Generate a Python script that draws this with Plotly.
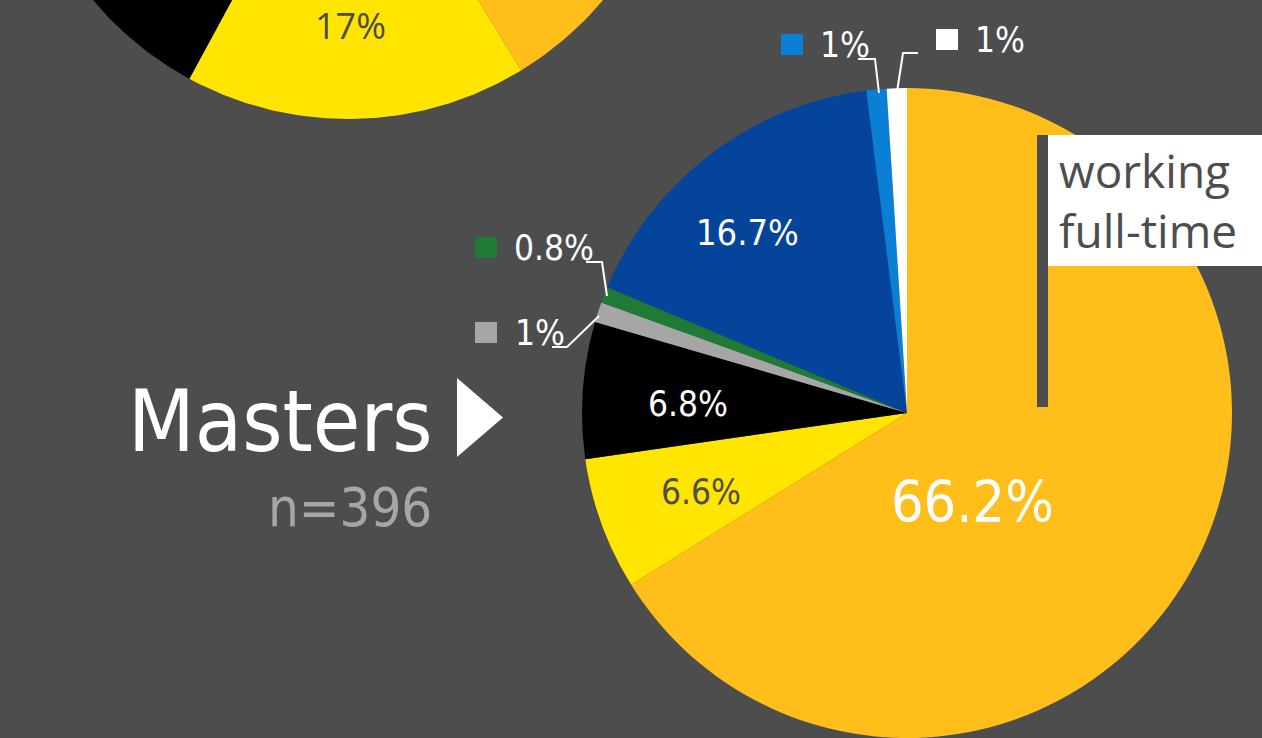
import numpy as np
import plotly.graph_objects as go

# ---------------- data ----------------
categories = ["working full-time", "working part-time", "not working", "other",
              "volunteering", "further study", "internship", "unknown"]
masters_values = [66.2, 6.6, 6.8, 1.0, 0.8, 16.7, 1.0, 1.0]
masters_n = 396
# partially visible pie at the top-left (only three slices visible)
top_values = [41.3, 16.6, 24.0, 2.0, 1.5, 12.6, 1.0, 1.0]
top_label_value = 17

# ---------------- style ----------------
BG = "#4d4d4d"
COLORS = ["#FFBE1A", "#FFE500", "#000000", "#A6A6A6", "#1F7A35", "#05449B", "#0A7FD6", "#FFFFFF"]
W, H = 1262, 738
LABEL_FONT = "DejaVu Sans Condensed, DejaVu Sans, sans-serif"
NARROW_FONT = "Liberation Sans Narrow, DejaVu Sans Condensed, sans-serif"

fig = go.Figure()

# ---- top-left partial pie (centre above the visible page) ----
tcx, tcy, tR = 348, -214, 333
cum = np.concatenate([[0], np.cumsum(top_values)]) / np.sum(top_values) * 2 * np.pi
for i in range(len(top_values)):
    th = np.linspace(cum[i], cum[i + 1], 120)
    xs = np.concatenate([[tcx], tcx + tR * np.sin(th), [tcx]])
    ys = np.concatenate([[tcy], tcy - tR * np.cos(th), [tcy]])
    fig.add_trace(go.Scatter(x=xs, y=ys, mode="lines", fill="toself",
                             fillcolor=COLORS[i], line=dict(width=0, color=COLORS[i]),
                             hoverinfo="skip", showlegend=False))

# ---- main Masters pie ----
R = 325
cx, cy = 907, 413
fig.add_trace(go.Pie(
    values=masters_values, labels=categories, sort=False, direction="clockwise",
    rotation=0, marker=dict(colors=COLORS, line=dict(width=0)),
    textinfo="none", hoverinfo="label+percent", showlegend=False,
    domain=dict(x=[(cx - R) / W, (cx + R) / W], y=[(H - cy - R) / H, (H - cy + R) / H]),
))

def pct(v):
    return f"{v:g}%"

annotations = []
# inside labels: (slice index, x, y, size, color)
inside = [(0, 972, 502, 57, "#FFFFFF"), (5, 747, 232, 36, "#FFFFFF"),
          (2, 688, 404, 35, "#FFFFFF"), (1, 701, 492, 35, BG)]
for idx, x, y, s, c in inside:
    annotations.append(dict(x=x, y=y, xref="x", yref="y", text=pct(masters_values[idx]),
                            showarrow=False, font=dict(family=LABEL_FONT, size=s, color=c),
                            xanchor="center", yanchor="middle"))

# outside labels with legend squares and leader lines
outside = [
    # idx, square x0, y0, text left x, text mid y, leader path
    (4, 475, 237, 512, 248, [(586, 262), (602, 262), (607, 296)]),
    (3, 475, 322, 513, 333, [(552, 347), (567, 347), (599, 316)]),
    (6, 781, 34, 818, 45, [(858, 59), (875, 59), (879, 93)]),
    (7, 936, 29, 973, 40, [(918, 53), (903, 53), (897, 92)]),
]
shapes = []
for idx, sx, sy, tx, ty, path in outside:
    shapes.append(dict(type="rect", xref="x", yref="y", x0=sx, x1=sx + 22, y0=sy, y1=sy + 21,
                       fillcolor=COLORS[idx], line=dict(width=0), layer="above"))
    annotations.append(dict(x=tx, y=ty, xref="x", yref="y", text=pct(masters_values[idx]),
                            showarrow=False, font=dict(family=LABEL_FONT, size=35, color="#FFFFFF"),
                            xanchor="left", yanchor="middle"))
    d = "M" + " L".join(f"{px},{py}" for px, py in path)
    shapes.append(dict(type="path", xref="x", yref="y", path=d,
                       line=dict(color="#FFFFFF", width=2), layer="above"))

# flag "working full-time"
shapes.append(dict(type="rect", xref="x", yref="y", x0=1048, x1=1275, y0=135, y1=266,
                   fillcolor="#FFFFFF", line=dict(width=0), layer="above"))
shapes.append(dict(type="rect", xref="x", yref="y", x0=1037, x1=1048, y0=135, y1=407,
                   fillcolor=BG, line=dict(width=0), layer="above"))
annotations.append(dict(x=1057, y=200, xref="x", yref="y", text="working<br>full-time",
                        showarrow=False, align="left", xanchor="left", yanchor="middle",
                        font=dict(family="Open Sans, sans-serif", size=46, color=BG)))

# Masters title, arrow and n
annotations.append(dict(x=435, y=421, xref="x", yref="y", text="Masters", showarrow=False,
                        xanchor="right", yanchor="middle",
                        font=dict(family=NARROW_FONT, size=86, color="#FFFFFF")))
annotations.append(dict(x=434, y=507, xref="x", yref="y", text=f"n={masters_n}", showarrow=False,
                        xanchor="right", yanchor="middle",
                        font=dict(family=NARROW_FONT, size=54, color="#A6A6A6")))
shapes.append(dict(type="path", xref="x", yref="y", path="M457,378 L457,457 L503,417.5 Z",
                   fillcolor="#FFFFFF", line=dict(width=0), layer="above"))

# top pie label
annotations.append(dict(x=350, y=25, xref="x", yref="y", text=f"{top_label_value}%", showarrow=False,
                        xanchor="center", yanchor="middle",
                        font=dict(family="Open Sans, sans-serif", size=36, color=BG)))

fig.update_layout(
    width=W, height=H, autosize=False,
    margin=dict(l=0, r=0, t=0, b=0, pad=0),
    paper_bgcolor=BG, plot_bgcolor=BG,
    xaxis=dict(range=[0, W], visible=False, fixedrange=True, domain=[0, 1]),
    yaxis=dict(range=[H, 0], visible=False, fixedrange=True, domain=[0, 1]),
    shapes=shapes, annotations=annotations,
)

fig.write_html("out.html", config={"displayModeBar": False},
               post_script="document.body.style.margin='0';document.body.style.overflow='hidden';")
